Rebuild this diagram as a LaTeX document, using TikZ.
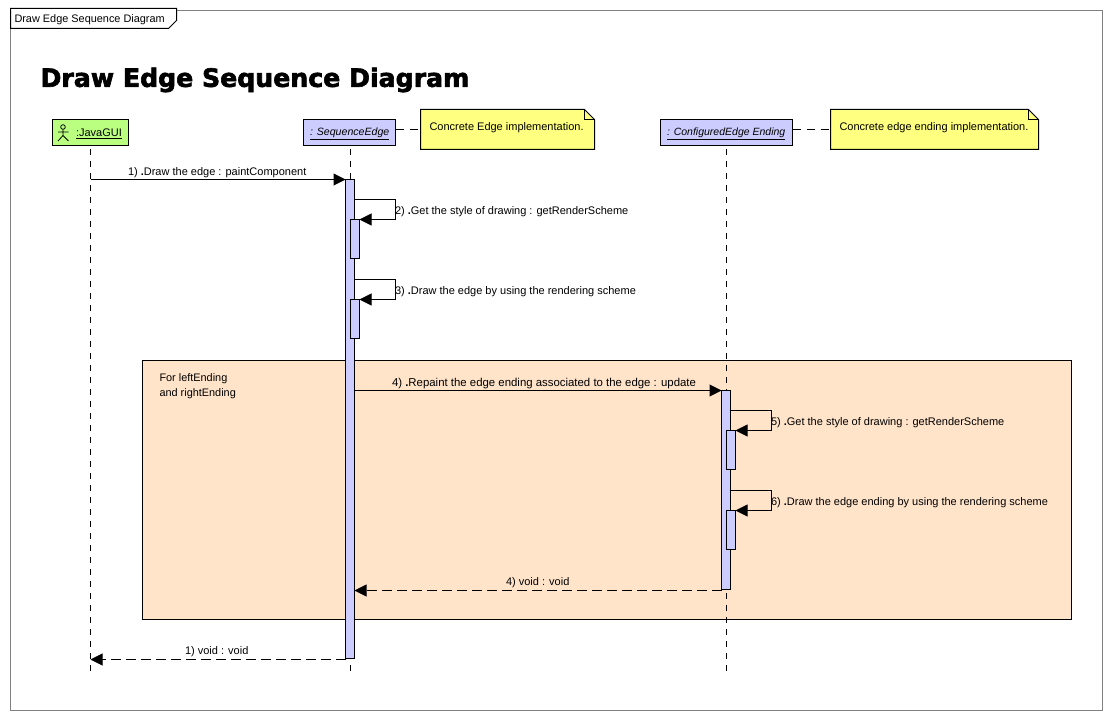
\documentclass[tikz,border=0pt]{standalone}
\usepackage{fontspec}
\setmainfont{Liberation Sans}
\newfontfamily\titlefont[FakeBold=2.4]{DejaVu Sans}
\usetikzlibrary{arrows.meta,calc}
\definecolor{barblue}{HTML}{CCCCFF}
\definecolor{guigreen}{HTML}{BBFF80}
\definecolor{noteyellow}{HTML}{FFFF80}
\definecolor{loopfill}{HTML}{FFE4CA}
\definecolor{framegray}{HTML}{808080}
\tikzset{
  x=1pt,y=-1pt,
  every node/.style={font=\fontsize{11}{13}\selectfont,inner sep=0pt,outer sep=0pt},
  lbl/.style={anchor=west,text=black},
  objbox/.style={draw=black,line width=1pt,minimum height=26pt,anchor=north west},
  bar/.style={draw=black,line width=1pt,fill=barblue,minimum width=9pt,anchor=north west},
  life/.style={draw=black,line width=1pt,dash pattern=on 6pt off 6pt},
  tip/.style={-{Triangle[length=12pt,width=12pt]}},
  call/.style={draw=black,line width=1pt,tip},
  ret/.style={draw=black,line width=1pt,tip,dash pattern=on 10pt off 5pt},
  notelink/.style={draw=black,line width=1pt,dash pattern=on 8pt off 6pt},
  notebody/.style={draw=black,line width=1pt,fill=noteyellow},
}
\begin{document}
\begin{tikzpicture}
\useasboundingbox (0,0) rectangle (1112,719);
\fill[white] (0,0) rectangle (1112,719);
% frame
\draw[framegray,line width=1pt] (10.5,10.5) rectangle (1102,710);
\draw[black,line width=1pt,fill=white] (10.5,8.5) -- (176.5,8.5) -- (176.5,20.5) -- (168.5,28.5) -- (10.5,28.5) -- cycle;
\node[lbl,font=\fontsize{10.9}{13}\selectfont] (frametitle) at (14.5,20) {Draw Edge Sequence Diagram};
% title
\node[anchor=west,font=\titlefont\bfseries\fontsize{25.2}{30}\selectfont] (title) at (40.5,80) {Draw Edge Sequence Diagram};
% loop region
\node[draw=black,line width=1pt,fill=loopfill,minimum width=929pt,minimum height=259pt,anchor=north west] (region) at (142.5,360.5) {};
\node[lbl,font=\fontsize{10.9}{13}\selectfont] (regionA) at (159.5,378.5) {For leftEnding};
\node[lbl,font=\fontsize{10.9}{13}\selectfont] (regionB) at (159.5,393.5) {and rightEnding};
% objects
\node[objbox,fill=guigreen,minimum width=76pt] (gui) at (52.5,119.5) {};
\node[objbox,fill=barblue,minimum width=92pt] (seq) at (303.5,119.5) {};
\node[objbox,fill=barblue,minimum width=132pt] (cfg) at (660.5,119.5) {};
\node[lbl] (guitext) at (76,133.5) {\underline{:JavaGUI}};
\node[lbl,font=\fontsize{10.6}{13}\selectfont] (seqtext) at (310,133.5) {\underline{\itshape : SequenceEdge}};
\node[lbl,font=\fontsize{10.5}{13}\selectfont] (cfgtext) at (667,133.5) {\underline{\itshape : ConfiguredEdge Ending}};
% actor
\draw[black,line width=.8pt] (63,127) circle (2.3);
\draw[black,line width=.8pt] (63,129.3) -- (63,135.5) (58,132) -- (68.5,132) (58,141) -- (63,135.5) -- (68.5,141);
% notes
\draw[notebody] (420.5,109.5) -- (584.5,109.5) -- (594.5,119.5) -- (594.5,149.5) -- (420.5,149.5) -- cycle;
\draw[black,line width=1pt] (584.5,109.5) -- (584.5,119.5) -- (594.5,119.5);
\coordinate (note1) at (420.5,129.5);
\node[lbl] (note1text) at (429.5,128) {Concrete Edge implementation.};
\draw[notebody] (830.5,109.5) -- (1028.5,109.5) -- (1038.5,119.5) -- (1038.5,149.5) -- (830.5,149.5) -- cycle;
\draw[black,line width=1pt] (1028.5,109.5) -- (1028.5,119.5) -- (1038.5,119.5);
\coordinate (note2) at (830.5,129.5);
\node[lbl] (note2text) at (839.5,128) {Concrete edge ending implementation.};
\draw[notelink] (seq.east |- note1) -- (note1);
\draw[notelink] (cfg.east |- note2) -- (note2);
% lifelines
\coordinate (l1a) at (90.5,149); \coordinate (l1b) at (90.5,673);
\coordinate (l2a) at (350.5,149); \coordinate (l2b) at (350.5,673);
\coordinate (l3a) at (726.5,149); \coordinate (l3b) at (726.5,673);
\draw[life] (l1a) -- (l1b);
\draw[life] (l2a) -- (l2b);
\draw[life] (l3a) -- (l3b);
% activations
\node[bar,minimum height=479pt] (a1) at (345.5,179.5) {};
\node[bar,minimum height=39pt] (a2) at (350.5,219.5) {};
\node[bar,minimum height=39pt] (a3) at (350.5,299.5) {};
\node[bar,minimum height=199pt] (b1) at (721.5,390.5) {};
\node[bar,minimum height=39pt] (b2) at (726.5,430.5) {};
\node[bar,minimum height=39pt] (b3) at (726.5,510.5) {};
% message anchors
\coordinate (m1) at (90.5,179.5);
\coordinate (m2a) at (395.5,199.5);
\coordinate (m2b) at (395.5,219.5);
\coordinate (m3a) at (395.5,279.5);
\coordinate (m3b) at (395.5,299.5);
\coordinate (m4) at (354.5,390.5);
\coordinate (m5a) at (771.5,410.5);
\coordinate (m5b) at (771.5,430.5);
\coordinate (m6a) at (771.5,490.5);
\coordinate (m6b) at (771.5,510.5);
\coordinate (r4) at (721.5,590.5);
\coordinate (r1) at (345.5,659.5);
% messages
\draw[call] (m1) -- (a1.west |- m1);
\draw[call] (a1.east |- m2a) -- (m2a) -- (m2b) -- (a2.east |- m2b);
\draw[call] (a1.east |- m3a) -- (m3a) -- (m3b) -- (a3.east |- m3b);
\draw[call] (a1.east |- m4) -- (b1.west |- m4);
\draw[call] (b1.east |- m5a) -- (m5a) -- (m5b) -- (b2.east |- m5b);
\draw[call] (b1.east |- m6a) -- (m6a) -- (m6b) -- (b3.east |- m6b);
\draw[ret] (r4) -- (a1.east |- r4);
\draw[ret] (r1) -- (l1a |- r1);
% labels
\newcommand{\dotb}{\textbf{.}}
\node[lbl] (t1) at (128,172.5) {1) \dotb Draw the edge : paintComponent};
\node[lbl] (t2) at (395,211.5) {2) \dotb Get the style of drawing : getRenderScheme};
\node[lbl] (t3) at (395,291.5) {3) \dotb Draw the edge by using the rendering scheme};
\node[lbl,font=\fontsize{11.4}{13}\selectfont] (t4) at (392,383.5) {4) \dotb Repaint the edge ending associated to the edge : update};
\node[lbl] (t5) at (771,422.5) {5) \dotb Get the style of drawing : getRenderScheme};
\node[lbl] (t6) at (771,502.5) {6) \dotb Draw the edge ending by using the rendering scheme};
\node[lbl] (t7) at (506,583) {4) void : void};
\node[lbl] (t8) at (185,652) {1) void : void};
\end{tikzpicture}
\end{document}
